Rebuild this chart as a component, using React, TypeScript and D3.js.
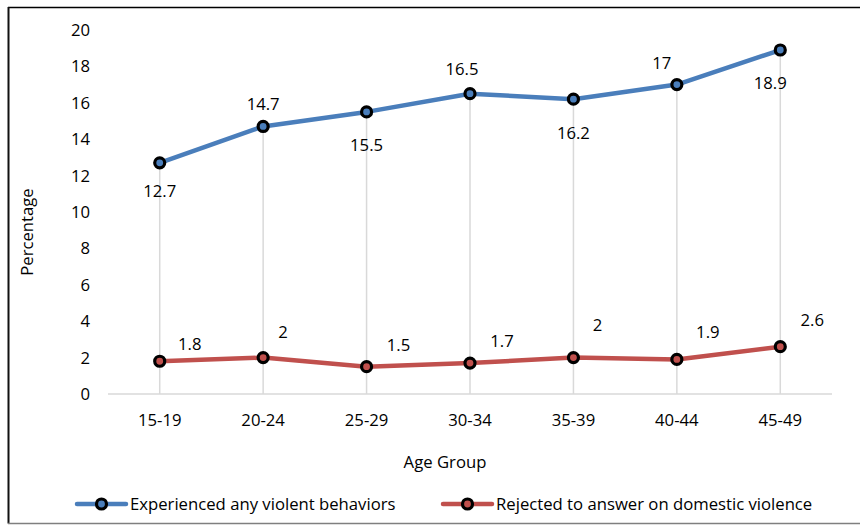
import React from "react";
import * as d3 from "d3";

const categories = ["15-19", "20-24", "25-29", "30-34", "35-39", "40-44", "45-49"];
const experienced = [12.7, 14.7, 15.5, 16.5, 16.2, 17, 18.9];
const rejected = [1.8, 2, 1.5, 1.7, 2, 1.9, 2.6];
const yTicks = [0, 2, 4, 6, 8, 10, 12, 14, 16, 18, 20];
const seriesNames = ["Experienced any violent behaviors", "Rejected to answer on domestic violence"];

// label placement (layout only)
const expLabelOffsets: [number, number][] = [[0, 28], [0, -22], [0, 33], [-8, -25], [0, 34], [-15, -22], [-10, 33]];
const rejLabelOffsets: [number, number][] = [[30, -17], [20, -26], [32, -22], [32, -22], [24, -33], [31, -27], [32, -27]];

const W = 860;
const H = 525;
const FONT = "'Open Sans', Lato, sans-serif";
const FS = 16.7;
const BLUE = "#4a7ebb";
const RED = "#c0504d";

export default function App() {
  const x = d3.scaleBand<string>().domain(categories).range([108, 832]);
  const y = d3.scaleLinear().domain([0, 20]).range([394, 30]);
  const cx = (c: string) => (x(c) as number) + x.bandwidth() / 2;
  const line = d3
    .line<number>()
    .x((_, i) => cx(categories[i]))
    .y((d) => y(d));

  const series = [
    { name: seriesNames[0], values: experienced, color: BLUE, offsets: expLabelOffsets },
    { name: seriesNames[1], values: rejected, color: RED, offsets: rejLabelOffsets },
  ];

  return (
    <svg
      width={W}
      height={H}
      style={{ position: "absolute", left: 0, top: 0, background: "#fff" }}
      fontFamily={FONT}
    >
      <rect x={0} y={0} width={W} height={H} fill="#fff" />
      {/* border */}
      <line x1={8} y1={7.5} x2={W} y2={7.5} stroke="#000" strokeWidth={1.5} />
      <line x1={8.5} y1={7} x2={8.5} y2={523.5} stroke="#111" strokeWidth={2} />
      <line x1={8} y1={523.5} x2={W} y2={523.5} stroke="#7f7f7f" strokeWidth={1.5} />

      {/* drop lines */}
      {categories.map((c, i) => (
        <line
          key={"drop" + c}
          x1={cx(c)}
          x2={cx(c)}
          y1={y(Math.max(experienced[i], rejected[i]))}
          y2={y(0)}
          stroke="#d9d9d9"
          strokeWidth={1.5}
        />
      ))}
      {/* baseline */}
      <line x1={108} x2={832} y1={y(0)} y2={y(0)} stroke="#d9d9d9" strokeWidth={1.5} />

      {/* y ticks */}
      {yTicks.map((t) => (
        <text key={"yt" + t} x={90} y={y(t)} dy="0.36em" textAnchor="end" fontSize={FS} fill="#000">
          {t}
        </text>
      ))}
      {/* x ticks */}
      {categories.map((c) => (
        <text key={"xt" + c} x={cx(c)} y={420} dy="0.36em" textAnchor="middle" fontSize={FS} fill="#000">
          {c}
        </text>
      ))}
      <text x={445} y={462} dy="0.36em" textAnchor="middle" fontSize={FS} fill="#000">
        Age Group
      </text>
      <text
        transform={`translate(27,232) rotate(-90)`}
        dy="0.36em"
        textAnchor="middle"
        fontSize={FS}
        fill="#000"
      >
        Percentage
      </text>

      {/* series */}
      {series.map((s) => (
        <g key={s.name}>
          <path d={line(s.values) as string} fill="none" stroke={s.color} strokeWidth={4.5} strokeLinejoin="round" />
          {s.values.map((v, i) => (
            <circle key={i} cx={cx(categories[i])} cy={y(v)} r={5} fill={s.color} stroke="#000" strokeWidth={3.2} />
          ))}
          {s.values.map((v, i) => (
            <text
              key={"l" + i}
              x={cx(categories[i]) + s.offsets[i][0]}
              y={y(v) + s.offsets[i][1]}
              dy="0.36em"
              textAnchor="middle"
              fontSize={FS}
              fill="#000"
            >
              {v}
            </text>
          ))}
        </g>
      ))}

      {/* legend */}
      {[
        { s: series[0], x0: 77 },
        { s: series[1], x0: 443 },
      ].map(({ s, x0 }) => (
        <g key={"lg" + s.name}>
          <line x1={x0} x2={x0 + 49} y1={504} y2={504} stroke={s.color} strokeWidth={4.5} strokeLinecap="round" />
          <circle cx={x0 + 24.5} cy={504} r={5} fill={s.color} stroke="#000" strokeWidth={3.2} />
          <text x={x0 + 53} y={504} dy="0.36em" fontSize={FS} fill="#000">
            {s.name}
          </text>
        </g>
      ))}
    </svg>
  );
}
